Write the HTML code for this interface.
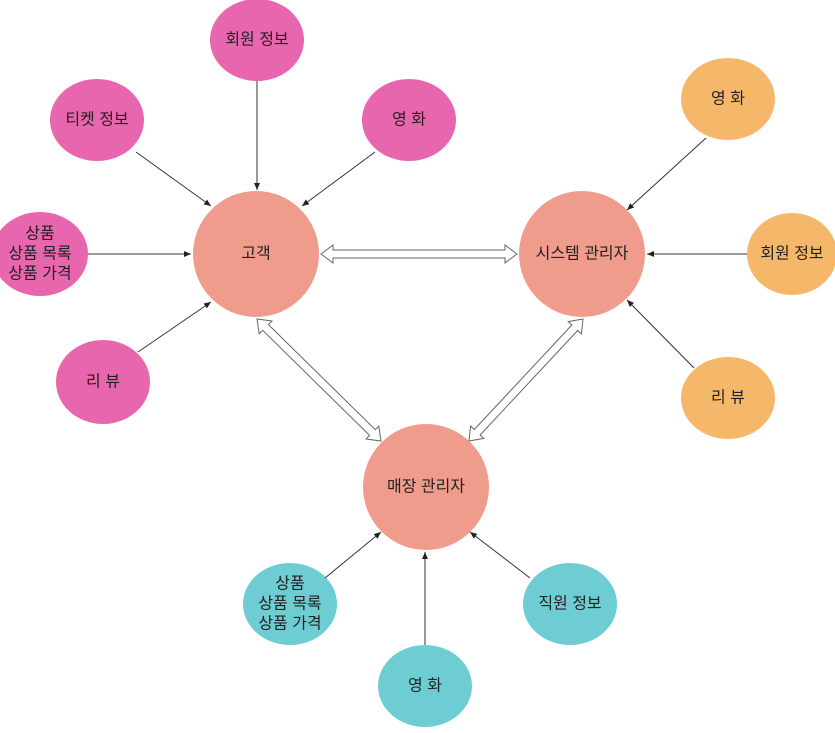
<!DOCTYPE html>
<html><head><meta charset="utf-8"><style>
html,body{margin:0;padding:0;background:#fff;width:835px;height:733px;overflow:hidden}
text{font-family:"Liberation Sans","Noto Sans CJK KR",sans-serif;font-size:16px;fill:#222;text-anchor:middle;dominant-baseline:central}
</style></head><body>
<svg id="s" width="835" height="733" viewBox="0 0 835 733" xmlns="http://www.w3.org/2000/svg">
<defs><marker id="a" markerWidth="8" markerHeight="8" refX="7" refY="4" orient="auto" markerUnits="userSpaceOnUse"><path d="M0,1 L7,4 L0,7 Z" fill="#222"/></marker></defs>
<g fill="#E766AE">
<ellipse cx="257" cy="40" rx="47" ry="41"/>
<ellipse cx="97" cy="120" rx="47" ry="41"/>
<ellipse cx="409" cy="120" rx="47" ry="41"/>
<ellipse cx="40" cy="254" rx="48" ry="42"/>
<ellipse cx="103" cy="382" rx="47" ry="42"/>
</g>
<g fill="#F5B86B">
<ellipse cx="728" cy="99" rx="47" ry="41"/>
<ellipse cx="792" cy="254" rx="45" ry="41"/>
<ellipse cx="728" cy="398" rx="47" ry="41"/>
</g>
<g fill="#6DCDD3">
<ellipse cx="290" cy="604" rx="47" ry="41"/>
<ellipse cx="570" cy="604" rx="47" ry="41"/>
<ellipse cx="425" cy="686" rx="47" ry="41"/>
</g>
<g fill="#F09C8C">
<circle cx="256" cy="254" r="63"/>
<circle cx="582" cy="254" r="63"/>
<circle cx="426" cy="487" r="63"/>
</g>
<g stroke="#333" stroke-width="1" marker-end="url(#a)">
<line x1="257" y1="81" x2="257" y2="190"/>
<line x1="136" y1="152" x2="211" y2="206"/>
<line x1="375" y1="152" x2="302" y2="206"/>
<line x1="88" y1="254" x2="191" y2="254"/>
<line x1="138" y1="352" x2="211" y2="302"/>
<line x1="706" y1="138" x2="627" y2="210"/>
<line x1="747" y1="254" x2="647" y2="254"/>
<line x1="694" y1="368" x2="627" y2="300"/>
<line x1="325" y1="578" x2="381" y2="532"/>
<line x1="530" y1="578" x2="470" y2="532"/>
<line x1="425" y1="645" x2="425" y2="552"/>
</g>
<g id="big" fill="#fff" stroke="#666" stroke-width="1"></g>
<text x="257" y="40">회원 정보</text>
<text x="97" y="120">티켓 정보</text>
<text x="409" y="120">영 화</text>
<text x="40" y="234">상품</text>
<text x="40" y="254">상품 목록</text>
<text x="40" y="274">상품 가격</text>
<text x="103" y="382">리 뷰</text>
<text x="728" y="99">영 화</text>
<text x="792" y="254">회원 정보</text>
<text x="728" y="398">리 뷰</text>
<text x="290" y="584">상품</text>
<text x="290" y="604">상품 목록</text>
<text x="290" y="624">상품 가격</text>
<text x="570" y="604">직원 정보</text>
<text x="425" y="686">영 화</text>
<text x="256" y="254">고객</text>
<text x="582" y="254">시스템 관리자</text>
<text x="426" y="487">매장 관리자</text>
</svg>
<script>
function dbl(x1,y1,x2,y2){var dx=x2-x1,dy=y2-y1,L=Math.hypot(dx,dy),ux=dx/L,uy=dy/L,nx=-uy,ny=ux,h=12,s=4,w=9;
function p(t,o){return (x1+ux*t+nx*o).toFixed(1)+','+(y1+uy*t+ny*o).toFixed(1);}
var pts=[p(0,0),p(h,w),p(h,s),p(L-h,s),p(L-h,w),p(L,0),p(L-h,-w),p(L-h,-s),p(h,-s),p(h,-w)];
var e=document.createElementNS('http://www.w3.org/2000/svg','polygon');e.setAttribute('points',pts.join(' '));document.getElementById('big').appendChild(e);}
dbl(321,254,517,254);dbl(257,319,381,441);dbl(583,319,469,441);
</script>
</body></html>
